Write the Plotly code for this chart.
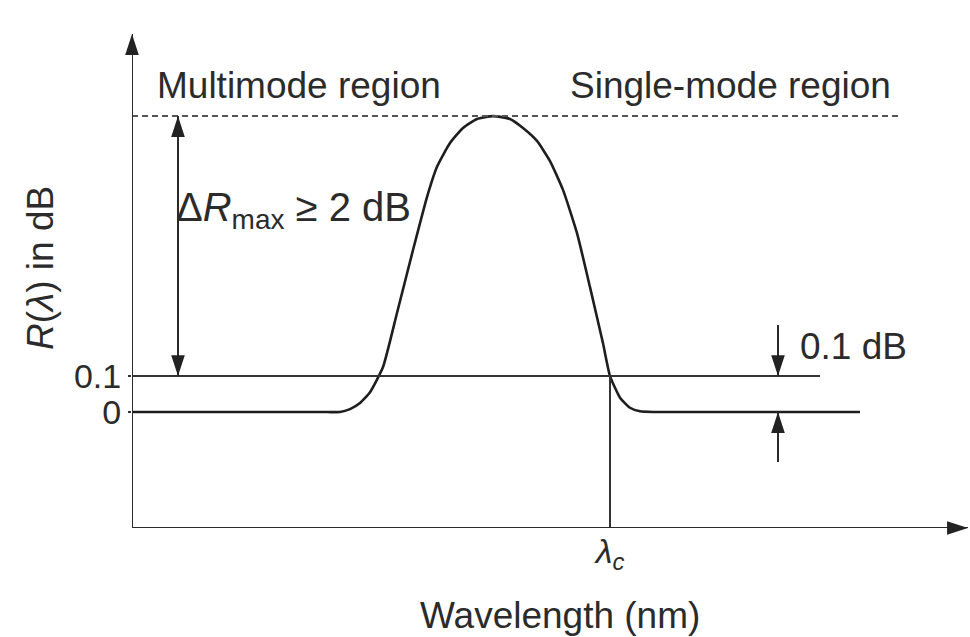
import plotly.graph_objects as go

# Schematic data (arbitrary wavelength units, R in dB-like units)
curve_x = [0.0, 1.95, 2.08, 2.18, 2.28, 2.38, 2.51, 2.65, 2.81, 2.95, 3.05, 3.18, 3.31,
           3.45, 3.61, 3.78, 3.91, 4.05, 4.18, 4.31, 4.45, 4.58, 4.71, 4.78, 4.88,
           4.98, 5.08, 5.22, 7.28]
curve_y = [0.0, 0.0, 0.0, 0.008, 0.025, 0.055, 0.125, 0.275, 0.45, 0.597, 0.681, 0.747,
           0.789, 0.814, 0.822, 0.814, 0.789, 0.753, 0.697, 0.617, 0.497, 0.347, 0.191,
           0.1, 0.04, 0.012, 0.002, 0.0, 0.0]

lambda_c = 4.78
r_max = 0.822
r_01 = 0.1
x_axis_y = -0.322
x_end = 8.36
y_end = 1.05
dash_end = 7.66
line01_end = 6.88
dbl_arrow_x = 0.46
right_arrow_x = 6.46
upper_tail = 0.242
lower_tail = -0.139

ytick_vals = [0, 0.1]
ytick_text = ["0", "0.1"]
xtick_vals = [lambda_c]
xtick_text = ["<i>λ<sub>c</sub></i>"]

FONT = "Liberation Sans, Arial, Helvetica, sans-serif"
INK = "#2b2b2b"

fig = go.Figure()

def seg(xs, ys, color="#333", width=2, dash=None):
    fig.add_trace(go.Scatter(x=xs, y=ys, mode="lines",
                             line=dict(color=color, width=width, dash=dash),
                             hoverinfo="skip", showlegend=False))

# main curve
fig.add_trace(go.Scatter(x=curve_x, y=curve_y, mode="lines",
                         line=dict(color="#1e1e1e", width=2.6, shape="spline", smoothing=0.5),
                         hoverinfo="skip", showlegend=False))
seg([0, dash_end], [r_max, r_max], color="#555", dash="6px,4px")
seg([0, line01_end], [r_01, r_01])
seg([lambda_c, lambda_c], [r_01, x_axis_y])
# axes
seg([0, 0], [x_axis_y, y_end], color="#2b2b2b")
seg([0, x_end], [x_axis_y, x_axis_y], color="#2b2b2b")
# delta R double arrow shaft
seg([dbl_arrow_x, dbl_arrow_x], [r_01, r_max], color="#2b2b2b")
# 0.1 dB arrow shafts
seg([right_arrow_x, right_arrow_x], [upper_tail, r_01], color="#2b2b2b")
seg([right_arrow_x, right_arrow_x], [lower_tail, 0.0], color="#2b2b2b")

# arrowheads (tip at the data point)
head_x = [0, x_end, dbl_arrow_x, dbl_arrow_x, right_arrow_x, right_arrow_x]
head_y = [y_end, x_axis_y, r_max, r_01, r_01, 0.0]
head_angle = [0, 90, 0, 180, 180, 0]
fig.add_trace(go.Scatter(x=head_x, y=head_y, mode="markers",
                         marker=dict(symbol="arrow", size=22, angle=head_angle,
                                     color="#222", line=dict(width=0)),
                         hoverinfo="skip", showlegend=False, cliponaxis=False))

def label(x, y, text, xanchor="left", size=37, angle=0, ref="data"):
    xr, yr = ("x", "y") if ref == "data" else ("paper", "paper")
    fig.add_annotation(x=x, y=y, xref=xr, yref=yr, text=text, showarrow=False,
                       xanchor=xanchor, yanchor="middle", textangle=angle,
                       font=dict(family=FONT, size=size, color=INK))

label(0.23, 0.906, "Multimode region")
label(4.36, 0.906, "Single-mode region")
label(0.42, 0.561, "Δ<i>R</i><sub>max</sub> ≥ 2 dB", size=40)
label(6.66, 0.181, "0.1 dB")
label(0.511, -0.165, "Wavelength (nm)", xanchor="center", ref="paper")
label(-0.11, 0.492, "<i>R</i>(<i>λ</i>) in dB", xanchor="center", angle=-90, ref="paper")

fig.update_layout(
    width=970, height=637,
    margin=dict(l=132, r=0, t=0, b=109),
    paper_bgcolor="white", plot_bgcolor="white",
    xaxis=dict(range=[0, 8.38], showgrid=False, zeroline=False, showline=False,
               tickvals=xtick_vals, ticktext=xtick_text, ticks="",
               tickfont=dict(family=FONT, size=34, color=INK), fixedrange=True),
    yaxis=dict(range=[-0.322, 1.1444], showgrid=False, zeroline=False, showline=False,
               tickvals=ytick_vals, ticktext=ytick_text, ticks="outside", ticklen=3,
               tickcolor="#333", tickwidth=1.5,
               tickfont=dict(family=FONT, size=34, color=INK), fixedrange=True),
    showlegend=False,
)

fig.write_html("out.html")
